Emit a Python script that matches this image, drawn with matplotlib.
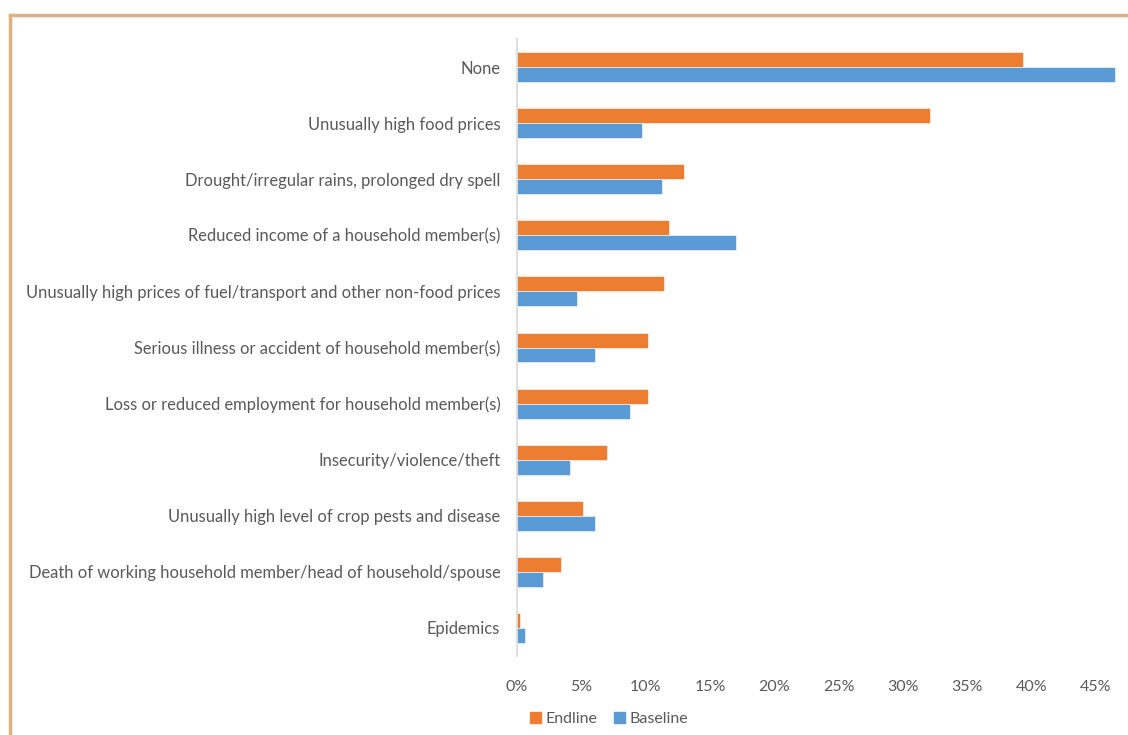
import numpy as np
import matplotlib
matplotlib.use("Agg")
import matplotlib.pyplot as plt
from matplotlib.lines import Line2D
from matplotlib.patches import Patch

plt.rcParams['font.family'] = ['Lato', 'DejaVu Sans']

categories = [
    "None",
    "Unusually high food prices",
    "Drought/irregular rains, prolonged dry spell",
    "Reduced income of a household member(s)",
    "Unusually high prices of fuel/transport and other non-food prices",
    "Serious illness or accident of household member(s)",
    "Loss or reduced employment for household member(s)",
    "Insecurity/violence/theft",
    "Unusually high level of crop pests and disease",
    "Death of working household member/head of household/spouse",
    "Epidemics",
]
endline = [39.3, 32.1, 13.0, 11.8, 11.4, 10.2, 10.2, 7.0, 5.1, 3.4, 0.2]
baseline = [46.5, 9.7, 11.3, 17.0, 4.7, 6.1, 8.8, 4.1, 6.1, 2.0, 0.6]
xticks = [0, 5, 10, 15, 20, 25, 30, 35, 40, 45]

orange = "#ED7D31"
blue = "#5B9BD5"
grey_text = "#595959"

fig = plt.figure(figsize=(11.28, 7.35), dpi=100)
ax = fig.add_axes([517 / 1128, 1 - 656 / 735, (1096 - 517) / 1128, (656 - 39) / 735])

y = np.arange(len(categories))
h = 0.267
ax.barh(y - h / 2, endline, height=h, color=orange, edgecolor="white",
        linewidth=0.4, clip_on=False, label="Endline")
ax.barh(y + h / 2, baseline, height=h, color=blue, edgecolor="white",
        linewidth=0.4, clip_on=False, label="Baseline")

ax.set_ylim(len(categories) - 0.5, -0.5)
ax.set_xlim(0, 45)
ax.set_yticks(y)
ax.set_yticklabels(categories)
ax.set_xticks(xticks)
ax.set_xticklabels([f"{t}%" for t in xticks])
ax.tick_params(axis="both", length=0, labelcolor=grey_text)
ax.tick_params(axis="y", pad=12, labelsize=11.9)
ax.tick_params(axis="x", pad=17, labelsize=11.5)

for s in ["top", "right", "bottom"]:
    ax.spines[s].set_visible(False)
ax.spines["left"].set_color("#D9D9D9")
ax.spines["left"].set_linewidth(1.2)

# legend below the plot
handles = [Patch(color=orange, label="Endline"), Patch(color=blue, label="Baseline")]
fig.legend(handles=handles, loc="center", bbox_to_anchor=(609 / 1128, 1 - 719 / 735),
           ncol=2, frameon=False, fontsize=11.5, labelcolor=grey_text,
           handlelength=0.7, handleheight=0.7, handletextpad=0.3, columnspacing=1.0)

# chart frame
fx = 9.5 / 1128
fy = 1 - 15 / 735
fig.add_artist(Line2D([fx, fx], [0, fy], transform=fig.transFigure,
                      color="#E0B07C", linewidth=2.4))
fig.add_artist(Line2D([fx, 1], [fy, fy], transform=fig.transFigure,
                      color="#E0B07C", linewidth=2.4))
fig.add_artist(Line2D([11.5 / 1128, 11.5 / 1128], [0, 1 - 17 / 735], transform=fig.transFigure,
                      color="#E6E6E6", linewidth=0.8))
fig.add_artist(Line2D([11.5 / 1128, 1], [1 - 17 / 735, 1 - 17 / 735], transform=fig.transFigure,
                      color="#E6E6E6", linewidth=0.8))

fig.savefig("out.png", dpi=100)
